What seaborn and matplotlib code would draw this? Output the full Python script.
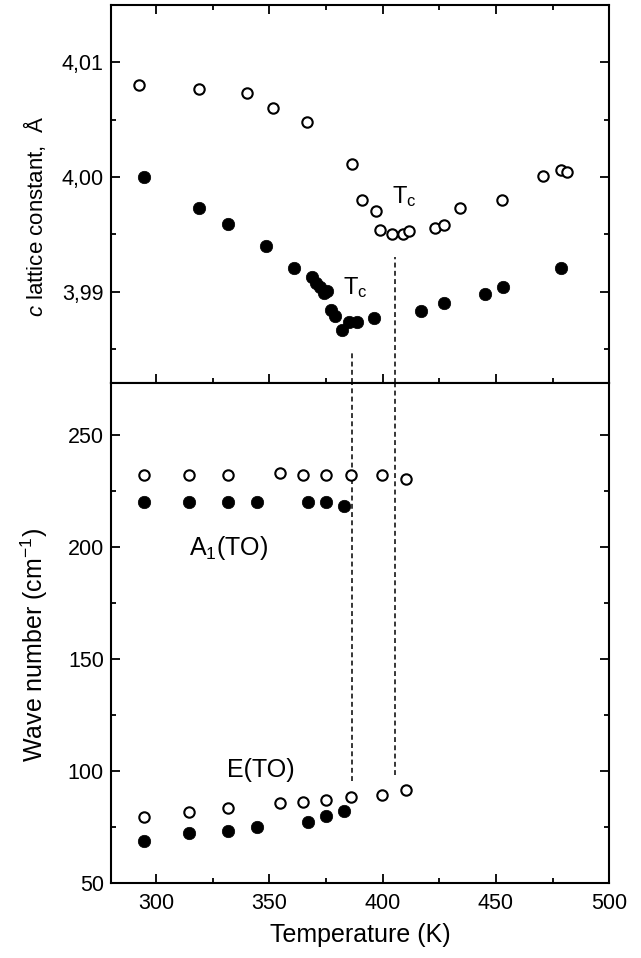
import numpy as np
import pandas as pd
import matplotlib
matplotlib.use("Agg")
import matplotlib.pyplot as plt
from matplotlib.ticker import MultipleLocator, FixedLocator, FixedFormatter
import seaborn as sns

# ---------------- data ----------------
# upper panel: c lattice constant (Angstrom) vs temperature (K)
lat_open_T = [292.7, 319.0, 340.0, 351.6, 366.6, 386.6, 391.1, 397.1, 398.7, 404.2,
              409.2, 411.8, 423.0, 427.2, 434.2, 452.8, 470.8, 478.6, 481.2]
lat_open_c = [4.0080, 4.0077, 4.0073, 4.0060, 4.0048, 4.0011, 3.9980, 3.9970, 3.9954, 3.9950,
              3.9950, 3.9953, 3.9956, 3.9958, 3.9973, 3.9980, 4.0001, 4.0006, 4.0004]

lat_fill_T = [294.5, 319.0, 331.8, 348.5, 361.1, 368.8, 370.8, 372.5, 374.3, 375.6,
              377.2, 379.0, 382.1, 385.3, 388.8, 396.3, 417.0, 427.0, 445.0, 453.0, 478.8]
lat_fill_c = [4.0000, 3.9973, 3.9959, 3.9940, 3.9921, 3.9913, 3.9908, 3.9904, 3.9899, 3.9901,
              3.9884, 3.9879, 3.9867, 3.9874, 3.9874, 3.9877, 3.9883, 3.9890, 3.9898, 3.9904, 3.9921]

# lower panel: wave number (cm-1) vs temperature (K)
open_T = [294.5, 314.6, 331.9, 354.9, 364.8, 374.8, 385.9, 399.6, 410.2]
A1_open = [232.0, 232.0, 232.0, 232.9, 232.0, 232.0, 232.0, 232.2, 230.3]
E_open = [79.6, 81.8, 83.4, 85.7, 86.4, 87.3, 88.5, 89.6, 91.8]

fill_T = [294.5, 314.6, 331.9, 344.7, 367.2, 374.8, 383.0]
A1_fill = [220.0, 220.0, 220.0, 220.0, 220.0, 220.0, 218.2]
E_fill = [69.0, 72.4, 73.3, 75.2, 77.5, 79.9, 82.2]

# transition temperatures (dashed lines)
Tc_values = [386.5, 405.5]

x_ticks = [300, 350, 400, 450, 500]
x_ticklabels = ["300", "350", "400", "450", "500"]
upper_yticks = [3.99, 4.00, 4.01]
upper_yticklabels = ["3,99", "4,00", "4,01"]
lower_yticks = [50, 100, 150, 200, 250]
lower_yticklabels = ["50", "100", "150", "200", "250"]

# ---------------- style ----------------
sns.set_theme(style="ticks")
plt.rcParams["font.family"] = ["Liberation Sans", "DejaVu Sans"]
plt.rcParams["mathtext.fontset"] = "custom"
plt.rcParams["mathtext.rm"] = "Liberation Sans"
plt.rcParams["mathtext.it"] = "Liberation Sans:italic"
plt.rcParams["axes.linewidth"] = 1.5
for k in ["text.color", "axes.labelcolor", "xtick.color", "ytick.color",
          "axes.edgecolor", "xtick.labelcolor", "ytick.labelcolor"]:
    plt.rcParams[k] = "black"

fig = plt.figure(figsize=(6.41, 9.58), dpi=100)
fig.patch.set_facecolor("white")
L, W = 0.1727, 0.7778
ax_top = fig.add_axes([L, 0.6005, W, 0.3943])
ax_bot = fig.add_axes([L, 0.0780, W, 0.5225])

FILL_S, OPEN_S = 80, 56
EDGE_OPEN = 1.5


def open_pts(ax, x, y):
    df = pd.DataFrame({"x": x, "y": y})
    sns.scatterplot(data=df, x="x", y="y", ax=ax, marker="o", s=OPEN_S,
                    color="white", edgecolor="black", linewidth=EDGE_OPEN, zorder=3)


def fill_pts(ax, x, y):
    df = pd.DataFrame({"x": x, "y": y})
    sns.scatterplot(data=df, x="x", y="y", ax=ax, marker="o", s=FILL_S,
                    color="black", edgecolor="black", linewidth=0.5, zorder=3)


open_pts(ax_top, lat_open_T, lat_open_c)
fill_pts(ax_top, lat_fill_T, lat_fill_c)

open_pts(ax_bot, open_T, A1_open)
fill_pts(ax_bot, fill_T, A1_fill)
open_pts(ax_bot, open_T, E_open)
fill_pts(ax_bot, fill_T, E_fill)

# limits
XLIM = (280, 500)
ax_top.set_xlim(*XLIM)
ax_bot.set_xlim(*XLIM)
ax_top.set_ylim(3.98207, 4.0150)
ax_bot.set_ylim(50, 273.3)

# dashed Tc lines
dash = dict(color="black", linestyle=(0, (3.2, 2.2)), linewidth=1.1, zorder=2)
ax_top.vlines(Tc_values[0], 3.98207, 3.98466, **dash)
ax_top.vlines(Tc_values[1], 3.98207, 3.99300, **dash)
ax_bot.vlines(Tc_values[0], 95.5, 273.3, **dash)
ax_bot.vlines(Tc_values[1], 98.5, 273.3, **dash)

# ticks
for ax in (ax_top, ax_bot):
    ax.xaxis.set_major_locator(FixedLocator(x_ticks))
    ax.xaxis.set_minor_locator(MultipleLocator(25))
    ax.tick_params(which="major", direction="in", length=6.5, width=1.3,
                   labelsize=15.5, pad=5, colors="black", labelcolor="black")
    ax.tick_params(which="minor", direction="in", length=3.8, width=1.3, colors="black")
    ax.set_facecolor("white")
    for sp in ax.spines.values():
        sp.set_linewidth(1.5)
        sp.set_color("black")
        sp.set_visible(True)

ax_top.tick_params(which="both", top=True, bottom=True, left=True, right=True,
                   labelbottom=False)
ax_bot.tick_params(which="both", top=False, bottom=True, left=True, right=True)
ax_bot.tick_params(axis="x", which="major", pad=7)

ax_bot.xaxis.set_major_formatter(FixedFormatter(x_ticklabels))

ax_top.yaxis.set_major_locator(FixedLocator(upper_yticks))
ax_top.yaxis.set_major_formatter(FixedFormatter(upper_yticklabels))
ax_top.yaxis.set_minor_locator(MultipleLocator(0.005))

ax_bot.yaxis.set_major_locator(FixedLocator(lower_yticks))
ax_bot.yaxis.set_major_formatter(FixedFormatter(lower_yticklabels))
ax_bot.yaxis.set_minor_locator(MultipleLocator(25))

# labels
ax_top.set_xlabel("")
ax_top.set_ylabel(r"$\it{c}$ lattice constant,  Å", fontsize=16, color="black")
ax_top.yaxis.set_label_coords(-0.125, 0.44)

ax_bot.set_xlabel("Temperature (K)", fontsize=18, color="black")
ax_bot.xaxis.set_label_coords(0.5, -0.080)
ax_bot.set_ylabel(r"Wave number (cm$^{\mathregular{-1}}$)", fontsize=18, color="black")
ax_bot.yaxis.set_label_coords(-0.122, 0.477)

# annotations
ax_top.text(404.3, 3.99773, r"T$_{\mathregular{c}}$", fontsize=17, ha="left", va="baseline")
ax_top.text(382.3, 3.98980, r"T$_{\mathregular{c}}$", fontsize=17, ha="left", va="baseline")
ax_bot.text(332.2, 196.6, r"A$_{\mathregular{1}}$(TO)", fontsize=18, ha="center", va="baseline")
ax_bot.text(346.3, 97.2, "E(TO)", fontsize=18, ha="center", va="baseline")

fig.savefig("out.png", dpi=100, facecolor="white")
